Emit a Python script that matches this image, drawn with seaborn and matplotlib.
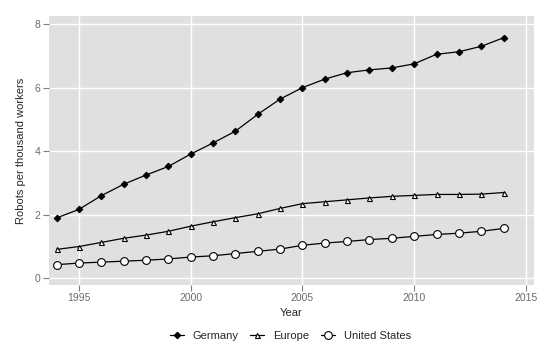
import seaborn as sns
import matplotlib.pyplot as plt
import pandas as pd
import numpy as np
from matplotlib.lines import Line2D

years = list(range(1994, 2015))
germany = [1.90, 2.17, 2.60, 2.96, 3.25, 3.52, 3.91, 4.26, 4.63, 5.16, 5.64,
           6.00, 6.27, 6.47, 6.56, 6.62, 6.75, 7.05, 7.13, 7.30, 7.57]
europe = [0.91, 1.00, 1.13, 1.26, 1.36, 1.48, 1.64, 1.78, 1.91, 2.03, 2.20,
          2.35, 2.41, 2.47, 2.53, 2.58, 2.61, 2.64, 2.64, 2.65, 2.70]
united_states = [0.43, 0.48, 0.51, 0.54, 0.57, 0.61, 0.67, 0.71, 0.78, 0.85, 0.92,
                 1.04, 1.11, 1.16, 1.22, 1.26, 1.32, 1.38, 1.42, 1.48, 1.57]
countries = ['Germany', 'Europe', 'United States']

df = pd.DataFrame({'year': years * 3,
                   'robots': germany + europe + united_states,
                   'country': np.repeat(countries, len(years))})

sns.set_style('darkgrid', {'axes.facecolor': '#E0E0E0', 'grid.color': 'white'})
plt.rcParams['font.family'] = ['Liberation Sans', 'DejaVu Sans']

# marker style per series: marker, size, face colour
styles = {'Germany': ('D', 3.3, 'black'),
          'Europe': ('^', 3.6, 'white'),
          'United States': ('o', 5.6, 'white')}

fig = plt.figure(figsize=(5.53, 3.51), dpi=100)
ax = fig.add_axes([0.0886, 0.188, 0.877, 0.766])

handles = []
for c in countries:
    m, ms, fc = styles[c]
    sns.lineplot(data=df[df['country'] == c], x='year', y='robots',
                 color='black', linewidth=0.9, marker=m, markersize=ms,
                 markerfacecolor=fc, markeredgecolor='black', markeredgewidth=0.8,
                 ax=ax, legend=False)
    handles.append(Line2D([], [], color='black', linewidth=0.9, marker=m,
                          markersize=ms, markerfacecolor=fc,
                          markeredgecolor='black', markeredgewidth=0.8, label=c))

ax.set_xlim(1993.66, 2015.36)
ax.set_ylim(-0.21, 8.25)
ax.set_xticks([1995, 2000, 2005, 2010, 2015])
ax.set_yticks([0, 2, 4, 6, 8])
ax.grid(True, color='white', linewidth=1.0)
for s in ax.spines.values():
    s.set_visible(False)
ax.tick_params(axis='both', bottom=True, left=True, length=4, width=0.8,
               color='#7F7F7F', labelcolor='#6B6B6B', labelsize=7.5, pad=2)
ax.set_xlabel('Year', fontsize=8, labelpad=3)
ax.set_ylabel('Robots per thousand workers', fontsize=8, labelpad=6)

fig.legend(handles=handles, loc='center', bbox_to_anchor=(0.525, 0.043),
           ncol=3, frameon=False, fontsize=8, handlelength=1.3,
           handletextpad=0.8, columnspacing=1.0)

fig.savefig('out.png', dpi=100)
